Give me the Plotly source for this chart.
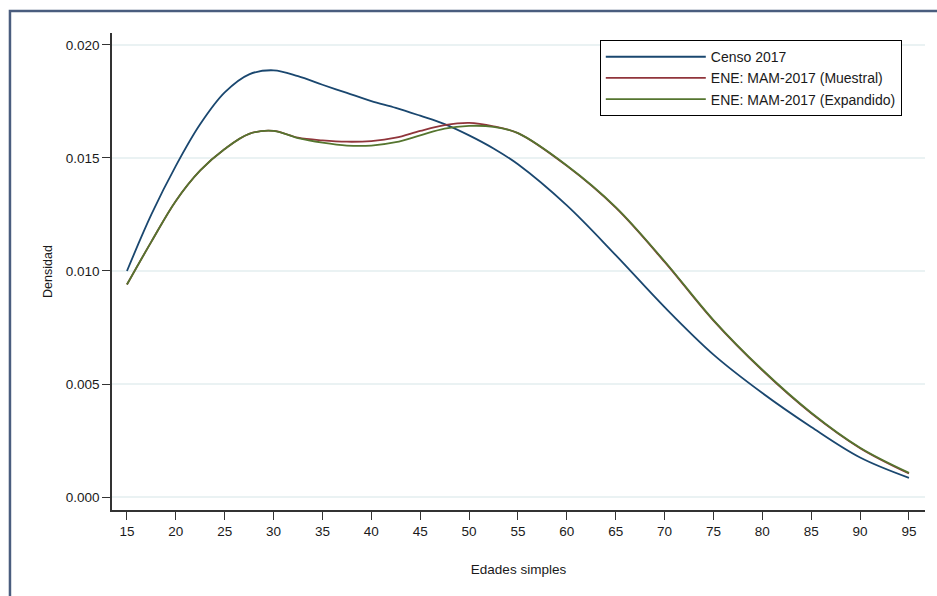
import plotly.graph_objects as go

edades = [15, 17.5, 20, 22.5, 25, 27.5, 30, 32.5, 35, 37.5, 40, 42.5, 45, 47.5, 50,
          52.5, 55, 60, 65, 70, 75, 80, 85, 90, 95]

censo = [0.0100, 0.0125, 0.01465, 0.0165, 0.0179, 0.0187, 0.01888, 0.01862, 0.01824,
         0.01788, 0.01752, 0.01722, 0.01687, 0.0165, 0.0160, 0.01542, 0.01472,
         0.0129, 0.0107, 0.0084, 0.0063, 0.0046, 0.0031, 0.00175, 0.00085]

muestral = [0.0094, 0.0113, 0.0131, 0.01445, 0.0154, 0.01607, 0.0162, 0.0159, 0.01578,
            0.01572, 0.01575, 0.0159, 0.0162, 0.01645, 0.01655, 0.0164, 0.0161,
            0.01465, 0.0128, 0.0104, 0.0078, 0.0056, 0.0037, 0.00216, 0.00104]

expandido = [0.0094, 0.0113, 0.0131, 0.01445, 0.0154, 0.01607, 0.0162, 0.01588, 0.01568,
             0.01555, 0.01555, 0.0157, 0.0160, 0.0163, 0.01642, 0.01638, 0.0161,
             0.01467, 0.01283, 0.01043, 0.00783, 0.00563, 0.00373, 0.00218, 0.00107]

series_names = ["Censo 2017", "ENE: MAM-2017 (Muestral)", "ENE: MAM-2017 (Expandido)"]
series_colors = ["#1a476f", "#90353b", "#55752f"]
x_ticks = list(range(15, 100, 5))
y_ticks = [0.000, 0.005, 0.010, 0.015, 0.020]

fig = go.Figure()
for name, vals, col in zip(series_names, [censo, muestral, expandido], series_colors):
    fig.add_trace(go.Scatter(x=edades, y=vals, mode="lines", name=name,
                             line=dict(color=col, width=1.8, shape="spline", smoothing=1.0)))

font_family = "Liberation Sans, Arial, sans-serif"
fig.update_layout(
    width=937, height=596,
    margin=dict(l=112, r=12, t=33, b=86),
    paper_bgcolor="white", plot_bgcolor="white",
    font=dict(family=font_family, size=13.5, color="#1a1a1a"),
    showlegend=True,
    legend=dict(x=0.600, y=0.985, xanchor="left", yanchor="top",
                bgcolor="white", bordercolor="black", borderwidth=1,
                font=dict(size=14, color="#1a1a1a"), itemwidth=100,
                tracegroupgap=0),
    xaxis=dict(range=[13.47, 96.64], tickvals=x_ticks, ticks="outside", ticklen=8,
               tickcolor="#333333", showline=True, linecolor="#333333", linewidth=1.5,
               showgrid=False, zeroline=False, mirror=False,
               tickfont=dict(size=13.5),
               title=dict(text="Edades simples", font=dict(size=13.5), standoff=27)),
    yaxis=dict(range=[-0.000575, 0.02053], tickvals=y_ticks, tickformat=".3f",
               ticks="outside", ticklen=8, tickcolor="#333333", showline=True,
               linecolor="#333333", linewidth=1.5, showgrid=True, gridcolor="#eaf2f3",
               gridwidth=1.5, zeroline=False, tickfont=dict(size=13.5),
               title=dict(text="Densidad", font=dict(size=12.5), standoff=10)),
    shapes=[dict(type="rect", xref="paper", yref="paper", x0=-0.1255, x1=1.2,
                 y0=-0.5, y1=1.0461, line=dict(color="#4a5d7e", width=2.5),
                 fillcolor="rgba(0,0,0,0)", layer="below")],
)

fig.write_html("out.html")
